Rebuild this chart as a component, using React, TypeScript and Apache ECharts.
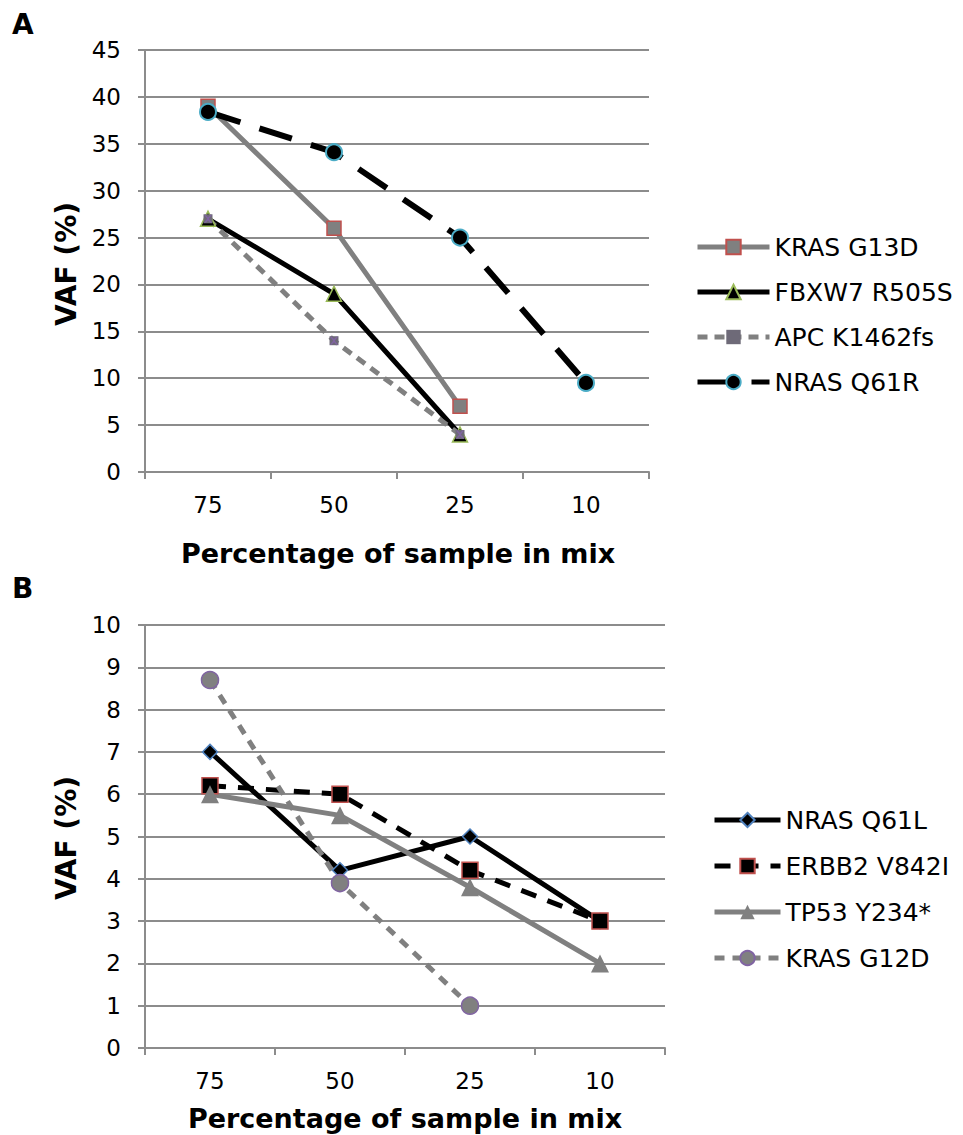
import React, { useEffect, useRef } from "react";
import * as echarts from "echarts";

const categories = ["75", "50", "25", "10"];

// Panel A
const krasG13D = [39, 26, 7, null];
const fbxw7R505S = [27, 19, 4, null];
const apcK1462fs = [27, 14, 4, null];
const nrasQ61R = [38.4, 34.1, 25, 9.5];

// Panel B
const nrasQ61L = [7, 4.2, 5, 3];
const erbb2V842I = [6.2, 6, 4.2, 3];
const tp53Y234 = [6, 5.5, 3.8, 2];
const krasG12D = [8.7, 3.9, 1, null];

const namesA = ["KRAS G13D", "FBXW7 R505S", "APC K1462fs", "NRAS Q61R"];
const namesB = ["NRAS Q61L", "ERBB2 V842I", "TP53 Y234*", "KRAS G12D"];

const FONT = "DejaVu Sans";
const GRAY = "#808080";
const GRID_GRAY = "#8c8c8c";
const RED = "#c0504d";
const GREEN = "#9bbb59";
const PURPLE = "#8064a2";
const CYAN = "#4bacc6";
const BLUE = "#4f81bd";

const X_PATH = "path://M0,0L2,0L5,3L8,0L10,0L6,5L10,10L8,10L5,7L2,10L0,10L4,5Z";

export default function App() {
  const ref = useRef<HTMLDivElement>(null);

  useEffect(() => {
    document.body.style.margin = "0";
    const chart = echarts.init(ref.current!, null, { renderer: "svg" });

    const xAxisBase = (gridIndex: number) => ({
      type: "category",
      gridIndex,
      data: categories,
      boundaryGap: true,
      axisLine: { show: true, lineStyle: { color: GRID_GRAY, width: 2 } },
      axisTick: { show: true, length: 7, alignWithLabel: false, lineStyle: { color: GRID_GRAY, width: 2 } },
      axisLabel: { color: "#000", fontFamily: FONT, fontSize: 23, margin: 21 },
      splitLine: { show: false },
    });

    const yAxisBase = (gridIndex: number, max: number, interval: number) => ({
      type: "value",
      gridIndex,
      min: 0,
      max,
      interval,
      axisLine: { show: true, lineStyle: { color: GRID_GRAY, width: 2 } },
      axisTick: { show: true, length: 7, lineStyle: { color: GRID_GRAY, width: 2 } },
      axisLabel: { color: "#000", fontFamily: FONT, fontSize: 23, margin: 24 },
      splitLine: { show: true, lineStyle: { color: GRID_GRAY, width: 2 } },
    });

    const legendText = { color: "#000", fontFamily: FONT, fontSize: 25, lineHeight: 26 };

    const option: any = {
      animation: false,
      backgroundColor: "#fff",
      grid: [
        { left: 145, top: 50, width: 504, height: 422 },
        { left: 145, top: 625, width: 520, height: 423 },
      ],
      xAxis: [xAxisBase(0), xAxisBase(1)],
      yAxis: [yAxisBase(0, 45, 5), yAxisBase(1, 10, 1)],
      legend: [
        {
          orient: "vertical",
          left: 690,
          top: 229,
          itemWidth: 72,
          itemHeight: 18,
          itemGap: 19,
          data: namesA,
          textStyle: legendText,
          lineStyle: { width: 5 },
        },
        {
          orient: "vertical",
          left: 707,
          top: 802,
          itemWidth: 66,
          itemHeight: 18,
          itemGap: 20,
          data: namesB,
          textStyle: legendText,
          lineStyle: { width: 5 },
        },
      ],
      graphic: [
        { type: "text", left: 12, top: 10, style: { text: "A", font: `bold 28px "${FONT}"`, fill: "#000" } },
        { type: "text", left: 12, top: 574, style: { text: "B", font: `bold 28px "${FONT}"`, fill: "#000" } },
        {
          type: "text", x: 66, y: 264, rotation: Math.PI / 2,
          style: { text: "VAF (%)", font: `bold 28px "${FONT}"`, fill: "#000", align: "center", verticalAlign: "middle" },
        },
        {
          type: "text", x: 66, y: 838, rotation: Math.PI / 2,
          style: { text: "VAF (%)", font: `bold 28px "${FONT}"`, fill: "#000", align: "center", verticalAlign: "middle" },
        },
        {
          type: "text", x: 398, y: 553,
          style: { text: "Percentage of sample in mix", font: `bold 27px "${FONT}"`, fill: "#000", align: "center", verticalAlign: "middle" },
        },
        {
          type: "text", x: 405, y: 1118,
          style: { text: "Percentage of sample in mix", font: `bold 27px "${FONT}"`, fill: "#000", align: "center", verticalAlign: "middle" },
        },
      ],
      series: [
        {
          name: "KRAS G13D", type: "line", xAxisIndex: 0, yAxisIndex: 0, data: krasG13D,
          symbol: "rect", symbolSize: 14,
          itemStyle: { color: GRAY, borderColor: RED, borderWidth: 1.5 },
          lineStyle: { color: GRAY, width: 5 },
        },
        {
          name: "FBXW7 R505S", type: "line", xAxisIndex: 0, yAxisIndex: 0, data: fbxw7R505S,
          symbol: "triangle", symbolSize: 15,
          itemStyle: { color: "#000", borderColor: GREEN, borderWidth: 1.5 },
          lineStyle: { color: "#000", width: 5 },
        },
        {
          name: "APC K1462fs", type: "line", xAxisIndex: 0, yAxisIndex: 0, data: apcK1462fs,
          symbol: "rect", symbolSize: 9,
          itemStyle: { color: "#6e6a78" },
          lineStyle: { color: GRAY, width: 5, type: [10, 7] },
        },
        {
          name: "APC K1462fs x", type: "line", xAxisIndex: 0, yAxisIndex: 0, data: apcK1462fs,
          symbol: X_PATH, symbolSize: 8,
          itemStyle: { color: PURPLE },
          lineStyle: { width: 0, opacity: 0 },
          z: 5,
        },
        {
          name: "NRAS Q61R", type: "line", xAxisIndex: 0, yAxisIndex: 0, data: nrasQ61R,
          symbol: "circle", symbolSize: 16,
          itemStyle: { color: "#000", borderColor: CYAN, borderWidth: 2 },
          lineStyle: { color: "#000", width: 6, type: [34, 20] },
        },
        {
          name: "NRAS Q61L", type: "line", xAxisIndex: 1, yAxisIndex: 1, data: nrasQ61L,
          symbol: "diamond", symbolSize: 15,
          itemStyle: { color: "#000", borderColor: BLUE, borderWidth: 1.5 },
          lineStyle: { color: "#000", width: 5 },
        },
        {
          name: "ERBB2 V842I", type: "line", xAxisIndex: 1, yAxisIndex: 1, data: erbb2V842I,
          symbol: "rect", symbolSize: 16,
          itemStyle: { color: "#000", borderColor: RED, borderWidth: 1.5 },
          lineStyle: { color: "#000", width: 5, type: [16, 12] },
        },
        {
          name: "TP53 Y234*", type: "line", xAxisIndex: 1, yAxisIndex: 1, data: tp53Y234,
          symbol: "triangle", symbolSize: 18,
          itemStyle: { color: GRAY },
          lineStyle: { color: GRAY, width: 5 },
        },
        {
          name: "KRAS G12D", type: "line", xAxisIndex: 1, yAxisIndex: 1, data: krasG12D,
          symbol: "circle", symbolSize: 17,
          itemStyle: { color: GRAY, borderColor: PURPLE, borderWidth: 1.5 },
          lineStyle: { color: GRAY, width: 5, type: [10, 8] },
        },
      ],
    };

    chart.setOption(option);
    return () => chart.dispose();
  }, []);

  return <div ref={ref} style={{ width: 963, height: 1135 }} />;
}
